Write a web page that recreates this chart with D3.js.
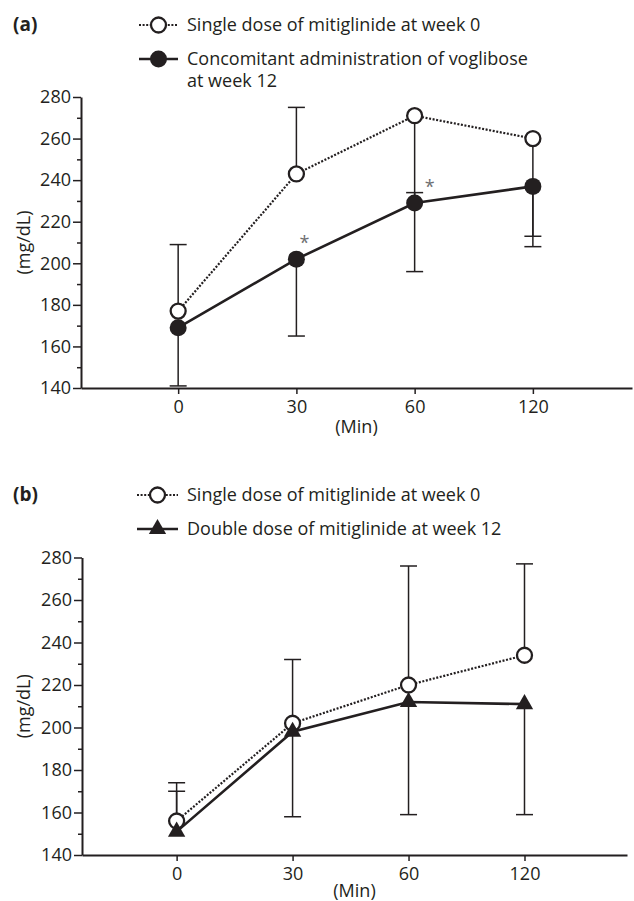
<!DOCTYPE html>
<html><head><meta charset="utf-8">
<script src="https://cdn.jsdelivr.net/npm/d3@7"></script>
<style>
body{margin:0;background:#fff;}
svg{display:block;font-family:"Open Sans",sans-serif;}
</style>
</head><body><svg id="c" width="634" height="901"></svg>
<script>
// ---------- data ----------
const times = ["0", "30", "60", "120"];
const yTicks = [140, 160, 180, 200, 220, 240, 260, 280];
const yMinorTicks = [150, 170, 190, 210, 230, 250, 270];

// Panel (a)
const aLegend = ["Single dose of mitiglinide at week 0", "Concomitant administration of voglibose", "at week 12"];
const aOpen = [177, 243, 271, 260];
const aOpenErr = [209, 275, 196, 208];
const aFilled = [169, 202, 229, 237];
const aFilledErr = [141, 165, 234, 213];
const aSig = [false, true, true, false];

// Panel (b)
const bLegend = ["Single dose of mitiglinide at week 0", "Double dose of mitiglinide at week 12"];
const bOpen = [156, 202, 220, 234];
const bOpenErr = [174, 232, 276, 277];
const bTri = [151, 198, 212, 211];
const bTriErr = [170, 158, 159, 159];

// ---------- drawing ----------
const ink = "#231f20";
const svg = d3.select("#c");

function drawPanel(p) {
  const g = svg.append("g");
  const x = d3.scalePoint().domain(times).range([p.x0, p.x1]).padding(p.pad).align(p.align);
  const y = d3.scaleLinear().domain([140, 280]).range([p.yb, p.yt]);

  // minor y ticks
  g.append("g").attr("transform", `translate(${p.x0},0)`)
    .call(d3.axisLeft(y).tickValues(yMinorTicks).tickSize(4).tickFormat(""))
    .call(s => s.select(".domain").remove())
    .selectAll("line").attr("stroke", ink).attr("stroke-width", 1.5);
  // major y axis
  const ya = g.append("g").attr("transform", `translate(${p.x0},0)`)
    .call(d3.axisLeft(y).tickValues(yTicks).tickSize(8).tickPadding(2).tickSizeOuter(0));
  // x axis
  const xa = g.append("g").attr("transform", `translate(0,${p.yb})`)
    .call(d3.axisBottom(x).tickSize(6).tickPadding(6).tickSizeOuter(0));
  [ya, xa].forEach(a => {
    a.select(".domain").attr("stroke", ink).attr("stroke-width", 2);
    a.selectAll(".tick line").attr("stroke", ink).attr("stroke-width", 1.5);
    a.selectAll(".tick text").attr("fill", ink).style("font-size", "18px")
      .style("font-family", "'Open Sans',sans-serif");
  });

  // axis titles
  g.append("text").attr("transform", `translate(${p.ylabX},${(p.yt + p.yb) / 2}) rotate(-90)`)
    .attr("text-anchor", "middle").attr("fill", ink).style("font-size", "18px").text("(mg/dL)");
  g.append("text").attr("x", (p.x0 + p.x1) / 2).attr("y", p.yb + p.minDy)
    .attr("text-anchor", "middle").attr("fill", ink).style("font-size", "18px").text("(Min)");

  // panel letter
  g.append("text").attr("x", 13).attr("y", p.letterY).attr("fill", ink)
    .style("font-size", "19px").style("font-weight", "bold").text(p.letter);

  const idx = d3.range(times.length);
  const cap = 8.5;

  // error bars
  p.series.forEach(s => {
    const eb = g.append("g").attr("stroke", ink).attr("stroke-width", 1.5);
    idx.forEach(i => {
      if (s.err[i] == null) return;
      const cx = x(times[i]);
      eb.append("line").attr("x1", cx).attr("x2", cx).attr("y1", y(s.vals[i])).attr("y2", y(s.err[i]));
      eb.append("line").attr("x1", cx - cap).attr("x2", cx + cap).attr("y1", y(s.err[i])).attr("y2", y(s.err[i]));
    });
  });

  // lines
  p.series.forEach(s => {
    g.append("path").datum(idx)
      .attr("d", d3.line().x(i => x(times[i])).y(i => y(s.vals[i])))
      .attr("fill", "none").attr("stroke", ink)
      .attr("stroke-width", s.dotted ? 2.2 : 2.6)
      .attr("stroke-dasharray", s.dotted ? "2 1.6" : null);
  });

  // markers
  p.series.forEach(s => {
    idx.forEach(i => drawMarker(g, s.marker, x(times[i]), y(s.vals[i])));
  });

  // significance asterisks
  if (p.sig) {
    idx.forEach(i => {
      if (!p.sig.flags[i]) return;
      g.append("text").attr("x", x(times[i]) + (i === 2 ? 15 : 8))
        .attr("y", y(p.sig.vals[i]) - 10)
        .attr("text-anchor", "middle").attr("fill", "#6d6e71")
        .style("font-size", "18px").text("*");
    });
  }

  // legend
  p.legend.forEach(L => {
    if (L.marker) {
      g.append("line").attr("x1", p.legX0).attr("x2", p.legX1).attr("y1", L.y - 6).attr("y2", L.y - 6)
        .attr("stroke", ink).attr("stroke-width", L.dotted ? 2.2 : 2.6)
        .attr("stroke-dasharray", L.dotted ? "2 1.6" : null);
      drawMarker(g, L.marker, (p.legX0 + p.legX1) / 2, L.y - 6);
    }
    g.append("text").attr("x", 187).attr("y", L.y).attr("fill", ink)
      .style("font-size", "18px").text(L.text);
  });
}

function drawMarker(g, type, cx, cy) {
  if (type === "open") {
    g.append("circle").attr("cx", cx).attr("cy", cy).attr("r", 7.5)
      .attr("fill", "#fff").attr("stroke", ink).attr("stroke-width", 2.3);
  } else if (type === "filled") {
    g.append("circle").attr("cx", cx).attr("cy", cy).attr("r", 8.5).attr("fill", ink);
  } else if (type === "triangle") {
    g.append("path").attr("transform", `translate(${cx},${cy})`)
      .attr("d", d3.symbol(d3.symbolTriangle, 130)()).attr("fill", ink);
  }
}

drawPanel({
  letter: "(a)", letterY: 31,
  x0: 81, x1: 632, pad: 0.83, align: 0.495,
  yt: 97, yb: 388, ylabX: 30, minDy: 45,
  legX0: 139, legX1: 178,
  series: [
    { vals: aOpen, err: aOpenErr, marker: "open", dotted: true },
    { vals: aFilled, err: aFilledErr, marker: "filled", dotted: false }
  ],
  sig: { flags: aSig, vals: aFilled },
  legend: [
    { text: aLegend[0], y: 31, marker: "open", dotted: true },
    { text: aLegend[1], y: 65, marker: "filled", dotted: false },
    { text: aLegend[2], y: 87 }
  ]
});

drawPanel({
  letter: "(b)", letterY: 501,
  x0: 82, x1: 627, pad: 0.85, align: 0.48,
  yt: 557.5, yb: 855, ylabX: 30, minDy: 42,
  legX0: 137, legX1: 178,
  series: [
    { vals: bOpen, err: bOpenErr, marker: "open", dotted: true },
    { vals: bTri, err: bTriErr, marker: "triangle", dotted: false }
  ],
  legend: [
    { text: bLegend[0], y: 501, marker: "open", dotted: true },
    { text: bLegend[1], y: 535, marker: "triangle", dotted: false }
  ]
});
</script>
</body></html>
